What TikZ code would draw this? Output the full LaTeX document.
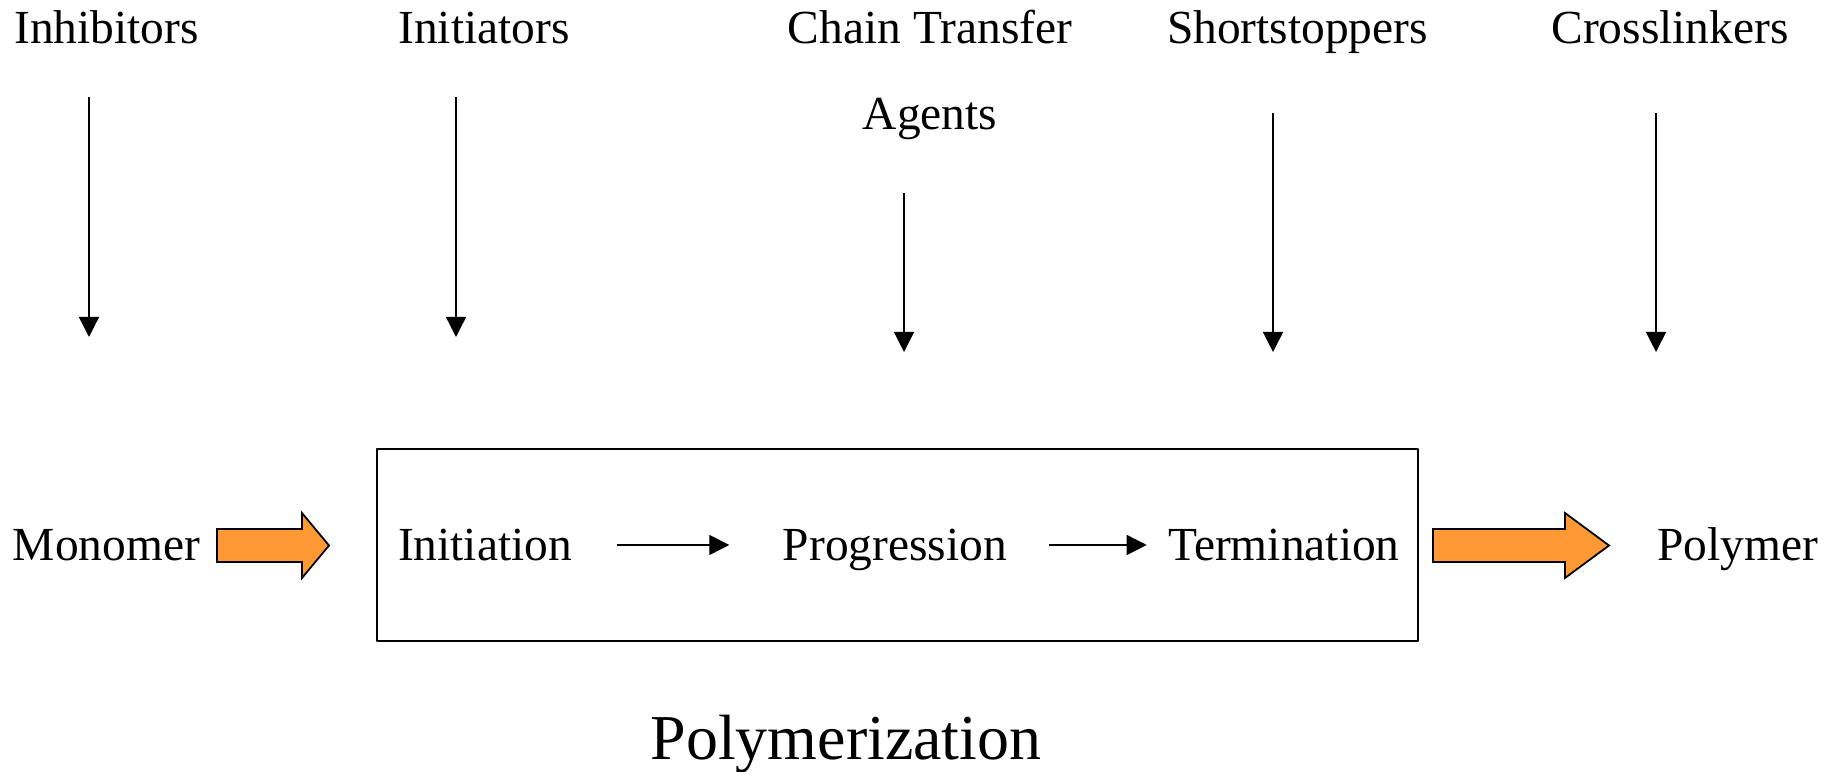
\documentclass[tikz,border=0pt]{standalone}
\usepackage{fontspec}
\setmainfont{Liberation Serif}
\usetikzlibrary{arrows.meta}
\definecolor{fatorange}{RGB}{255,153,51}
\tikzset{
	lbl/.style={inner sep=0pt,anchor=base},
	stage/.style={inner sep=0pt,text height=9.6pt,text depth=0.5pt},
	fat/.style={draw=black,fill=fatorange,line width=0.5pt,line join=miter}
}
\begin{document}
\begin{tikzpicture}[>={Triangle[length=2mm,width=2mm]},line join=round,line width=0.4pt,font=\fontsize{13.5}{16}\selectfont]
	\useasboundingbox (0,0) rectangle (18.34,7.72);
	\node[lbl] (inh) at (1.065,7.28) {Inhibitors};
	\node[lbl] (ini) at (4.84,7.28) {Initiators};
	\node[lbl,align=center,font=\fontsize{13.5}{24.5}\selectfont] (cta) at (9.30,6.42) {Chain Transfer\\Agents};
	\node[lbl] (shs) at (12.975,7.28) {Shortstoppers};
	\node[lbl] (crl) at (16.70,7.28) {Crosslinkers};
	\foreach \n/\x/\a/\b in {inh/0.89/6.75/4.35,ini/4.56/6.75/4.35,cta/9.04/5.79/4.20,shs/12.73/6.59/4.20,crl/16.56/6.59/4.20}
	{
		\coordinate (\n top) at (\x,\a);
		\coordinate (\n tip) at (\x,\b);
		\draw[->] (\n top) -- (\n tip);
	}
	\node[stage] (mono) at (1.065,2.27) {Monomer};
	\node[stage] (init) at (4.85,2.27) {Initiation};
	\node[stage] (prog) at (8.95,2.27) {Progression};
	\node[stage] (term) at (12.84,2.27) {Termination};
	\node[stage] (poly) at (17.375,2.27) {Polymer};
	\node[draw,line width=0.6pt,inner sep=0pt,minimum width=10.41cm,minimum height=1.92cm] (box) at (8.975,2.27) {};
	\draw[->,shorten <=0.44cm,shorten >=0.53cm] (init) -- (prog);
	\draw[->,shorten <=0.41cm,shorten >=0.21cm] (prog) -- (term);
	\filldraw[fat] (2.17,2.43) -- (3.02,2.43) -- (3.02,2.59) -- (3.29,2.265) -- (3.02,1.94) -- (3.02,2.10) -- (2.17,2.10) -- cycle;
	\filldraw[fat] (14.33,2.43) -- (15.65,2.43) -- (15.65,2.59) -- (16.09,2.265) -- (15.65,1.94) -- (15.65,2.10) -- (14.33,2.10) -- cycle;
	\node[lbl,font=\fontsize{18.2}{22}\selectfont] (title) at (8.46,0.12) {Polymerization};
\end{tikzpicture}
\end{document}
